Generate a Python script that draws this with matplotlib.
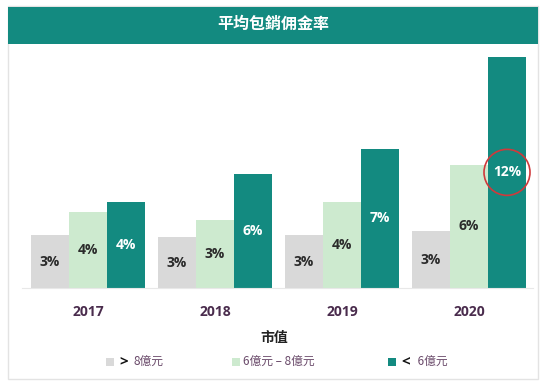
import matplotlib
matplotlib.use('Agg')
import matplotlib.pyplot as plt
import matplotlib.patches as mpatches
from matplotlib.transforms import IdentityTransform
import numpy as np

plt.rcParams['font.family'] = ['Open Sans', 'Noto Sans CJK TC', 'DejaVu Sans']

years = ['2017', '2018', '2019', '2020']
big = [2.7, 2.6, 2.7, 2.9]          # > 8億元
mid = [3.9, 3.45, 4.4, 6.3]         # 6億元 - 8億元
small = [4.4, 5.8, 7.1, 11.8]       # < 6億元
series = [big, mid, small]
legend_prefix = ['>', '', '<']
legend_labels = ['8億元', '6億元 – 8億元', ' 6億元']

teal = '#138a80'
colors = ['#d9d9d9', '#cdeacf', teal]
text_colors = ['#2b2b2b', '#2b2b2b', 'white']
purple = '#4a2c4d'
cjk = ['Noto Sans CJK TC', 'DejaVu Sans']

W, H = 550, 383
fig = plt.figure(figsize=(W / 100, H / 100), dpi=100)

# panel border + title banner
fig.add_artist(mpatches.Rectangle((8 / W, 1 - 379 / H), 530 / W, 373 / H,
                                  transform=fig.transFigure, fill=False,
                                  edgecolor='#e3e3e3', lw=1))
fig.add_artist(mpatches.Rectangle((8 / W, 1 - 44 / H), 530 / W, 37 / H,
                                  transform=fig.transFigure, facecolor=teal,
                                  edgecolor='none'))
fig.text(273 / W, 1 - 24 / H, '平均包銷佣金率', color='white', fontsize=11.5,
         fontweight='bold', ha='center', va='center', family=cjk)

ax = fig.add_axes([22 / W, 1 - 288 / H, 511 / W, 238 / H])
x = np.arange(len(years))
w = 38 / 127
for i, vals in enumerate(series):
    bars = ax.bar(x + (i - 1) * w, vals, w, color=colors[i], edgecolor='none')
    for b, v in zip(bars, vals):
        ax.text(b.get_x() + b.get_width() / 2, v / 2, f'{v:.0f}%',
                ha='center', va='center', fontsize=10, fontweight='bold',
                color=text_colors[i])

ax.set_xlim((22 - 88) / 127, (533 - 88) / 127)
ax.set_ylim(0, 238 / 19.6)
ax.set_xticks(x)
ax.set_xticklabels(years, fontsize=10, fontweight='bold', color=purple)
ax.tick_params(axis='x', length=0, pad=12)
ax.set_yticks([])
for s in ['top', 'left', 'right']:
    ax.spines[s].set_visible(False)
ax.spines['bottom'].set_color('#e8e8e8')
ax.patch.set_alpha(0)

# red circle around the 2020 small-cap label
cx, cy = ax.transData.transform((x[-1] + w, small[-1] / 2))
fig.add_artist(mpatches.Circle((cx, cy), 23, transform=IdentityTransform(),
                               fill=False, edgecolor='#d0393b', lw=1.2))

fig.text(274 / W, 1 - 338 / H, '市值', fontsize=10, fontweight='bold',
         ha='center', va='center', color='#222222', family=cjk)

# legend
leg_x = [110, 236, 392]
for i in range(3):
    fig.add_artist(mpatches.Rectangle(((leg_x[i] - 4) / W, 1 - 366 / H), 8 / W, 8 / H,
                                      transform=fig.transFigure,
                                      facecolor=colors[i], edgecolor='none'))
    tx = leg_x[i] + 9
    if legend_prefix[i]:
        fig.text(tx / W, 1 - 362 / H, legend_prefix[i], fontsize=11,
                 fontweight='bold', ha='left', va='center', color='#111111')
        tx += 14
    else:
        tx -= 2
    fig.text(tx / W, 1 - 362 / H, legend_labels[i], fontsize=8.5,
             ha='left', va='center', color='#6a4a6a', family=cjk)

fig.savefig('out.png', dpi=100)
